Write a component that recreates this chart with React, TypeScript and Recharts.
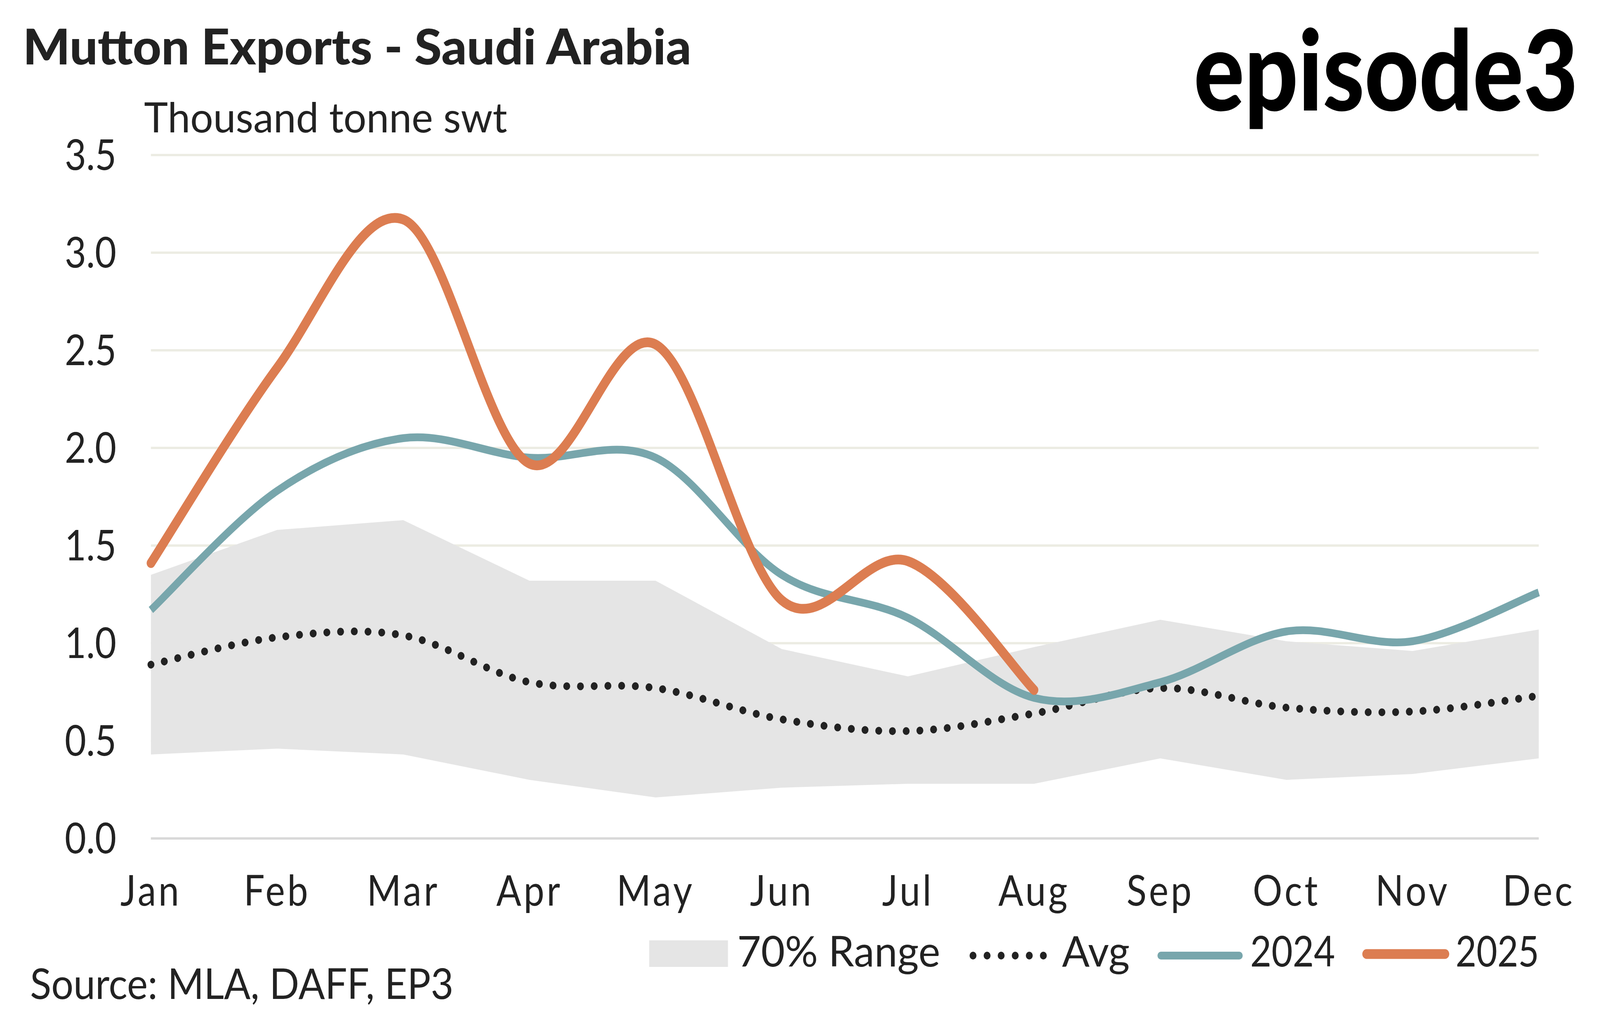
import React from 'react';
import { ComposedChart, Area, Line, XAxis, YAxis, CartesianGrid } from 'recharts';

const MONTHS = ['Jan', 'Feb', 'Mar', 'Apr', 'May', 'Jun', 'Jul', 'Aug', 'Sep', 'Oct', 'Nov', 'Dec'];
const RANGE_LOW = [0.43, 0.46, 0.43, 0.3, 0.21, 0.26, 0.28, 0.28, 0.41, 0.3, 0.33, 0.41];
const RANGE_HIGH = [1.35, 1.58, 1.63, 1.32, 1.32, 0.97, 0.83, 0.98, 1.12, 1.01, 0.96, 1.07];
const AVG = [0.89, 1.03, 1.04, 0.8, 0.77, 0.61, 0.55, 0.64, 0.77, 0.67, 0.65, 0.73];
const Y2024 = [1.17, 1.78, 2.05, 1.95, 1.95, 1.35, 1.13, 0.72, 0.8, 1.06, 1.01, 1.26];
const Y2025 = [1.41, 2.41, 3.17, 1.92, 2.53, 1.22, 1.42, 0.76, null, null, null, null];
const Y_TICKS = [0, 0.5, 1, 1.5, 2, 2.5, 3, 3.5];

const FONT = 'Lato, "Noto Sans", sans-serif';
const INK = '#222222';
const ORANGE = '#DC7D51';
const TEAL = '#78A6AC';
const BAND = '#E5E5E5';

const data = MONTHS.map((m, i) => ({
  month: m,
  range: [RANGE_LOW[i], RANGE_HIGH[i]],
  avg: AVG[i],
  y2024: Y2024[i],
  y2025: Y2025[i],
}));

// Excel-style smoothing (Catmull-Rom through the points)
function excelCurve(context: any) {
  let pts: [number, number][] = [];
  return {
    areaStart() {},
    areaEnd() {},
    lineStart() { pts = []; },
    lineEnd() {
      const n = pts.length;
      if (!n) return;
      context.moveTo(pts[0][0], pts[0][1]);
      if (n === 1) { context.lineTo(pts[0][0], pts[0][1]); return; }
      for (let i = 0; i < n - 1; i++) {
        const p0 = pts[Math.max(i - 1, 0)];
        const p1 = pts[i];
        const p2 = pts[i + 1];
        const p3 = pts[Math.min(i + 2, n - 1)];
        context.bezierCurveTo(
          p1[0] + (p2[0] - p0[0]) / 6, p1[1] + (p2[1] - p0[1]) / 6,
          p2[0] - (p3[0] - p1[0]) / 6, p2[1] - (p3[1] - p1[1]) / 6,
          p2[0], p2[1],
        );
      }
    },
    point(x: number, y: number) { pts.push([+x, +y]); },
  };
}

const W = 4675;
const H = 2594;
const TICK = { fill: INK, fontSize: 108, fontFamily: FONT, letterSpacing: 7 };

export default function App() {
  // the browser caps the viewport width, so stretch the drawing to fill it
  const vw = typeof window !== 'undefined' ? window.innerWidth : W;
  const vh = typeof window !== 'undefined' ? window.innerHeight : H;
  const sx = Math.min(1, vw / W);
  const sy = Math.min(1, vh / H);

  return (
    <div style={{ position: 'absolute', left: 0, top: 0, width: W * sx, height: H * sy, overflow: 'hidden', background: '#fff' }}>
      <div
        style={{
          position: 'absolute', left: 0, top: 0, width: W, height: H,
          background: '#fff', fontFamily: FONT, color: INK,
          transform: `scale(${sx}, ${sy})`, transformOrigin: '0 0',
        }}
      >
        <ComposedChart
          width={W}
          height={H}
          data={data}
          margin={{ top: 397, right: 179, bottom: 247, left: 0 }}
        >
          <CartesianGrid vertical={false} stroke="#ECECE3" strokeWidth={6} />
          <XAxis
            dataKey="month"
            scale="point"
            padding={{ left: 0, right: 0 }}
            height={200}
            axisLine={{ stroke: '#D9D9D9', strokeWidth: 6 }}
            tickLine={false}
            tickSize={0}
            tickMargin={95}
            tick={TICK}
            interval={0}
          />
          <YAxis
            domain={[0, 3.5]}
            ticks={Y_TICKS}
            width={441}
            axisLine={false}
            tickLine={false}
            tickSize={0}
            tickMargin={101}
            tick={{ ...TICK, letterSpacing: 0 }}
            tickFormatter={(v: number) => v.toFixed(1)}
          />
          <Area
            dataKey="range"
            type="linear"
            fill={BAND}
            fillOpacity={1}
            stroke="none"
            isAnimationActive={false}
            dot={false}
            activeDot={false}
          />
          <Line
            dataKey="avg"
            type={excelCurve as any}
            stroke={INK}
            strokeWidth={20}
            strokeDasharray="0.1 40"
            strokeLinecap="round"
            dot={false}
            activeDot={false}
            isAnimationActive={false}
          />
          <Line
            dataKey="y2024"
            type={excelCurve as any}
            stroke={TEAL}
            strokeWidth={20}
            dot={false}
            activeDot={false}
            isAnimationActive={false}
          />
          <Line
            dataKey="y2025"
            type={excelCurve as any}
            stroke={ORANGE}
            strokeWidth={25}
            strokeLinecap="round"
            dot={false}
            activeDot={false}
            isAnimationActive={false}
          />
        </ComposedChart>

        <svg width={W} height={H} style={{ position: 'absolute', left: 0, top: 0, pointerEvents: 'none' }} fontFamily={FONT}>
          <text x={67} y={165} fontSize={125} fontWeight={900} fill={INK} textLength={1953} lengthAdjust="spacingAndGlyphs">
            Mutton Exports - Saudi Arabia
          </text>
          <text x={421} y={339} fontSize={107} fill={INK} textLength={1061} lengthAdjust="spacingAndGlyphs">
            Thousand tonne swt
          </text>
          <text x={3488} y={283} fontSize={285} fontWeight={900} fill="#000" textLength={1123} lengthAdjust="spacingAndGlyphs">
            episode3
          </text>
          <text x={88} y={2558} fontSize={108} fill={INK} textLength={1237} lengthAdjust="spacingAndGlyphs">
            Source: MLA, DAFF, EP3
          </text>

          {/* legend */}
          <rect x={1897} y={2408} width={230} height={68} fill={BAND} />
          <text x={2154} y={2475} fontSize={108} fill={INK} textLength={593} lengthAdjust="spacingAndGlyphs">70% Range</text>
          <line x1={2843} y1={2447} x2={3049} y2={2447} stroke={INK} strokeWidth={20} strokeDasharray="0.1 41" strokeLinecap="round" />
          <text x={3103} y={2475} fontSize={108} fill={INK} textLength={198} lengthAdjust="spacingAndGlyphs">Avg</text>
          <line x1={3392} y1={2447} x2={3621} y2={2447} stroke={TEAL} strokeWidth={20} strokeLinecap="round" />
          <text x={3653} y={2475} fontSize={108} fill={INK} textLength={248} lengthAdjust="spacingAndGlyphs">2024</text>
          <line x1={3993} y1={2443} x2={4222} y2={2443} stroke={ORANGE} strokeWidth={25} strokeLinecap="round" />
          <text x={4253} y={2475} fontSize={108} fill={INK} textLength={244} lengthAdjust="spacingAndGlyphs">2025</text>
        </svg>
      </div>
    </div>
  );
}
